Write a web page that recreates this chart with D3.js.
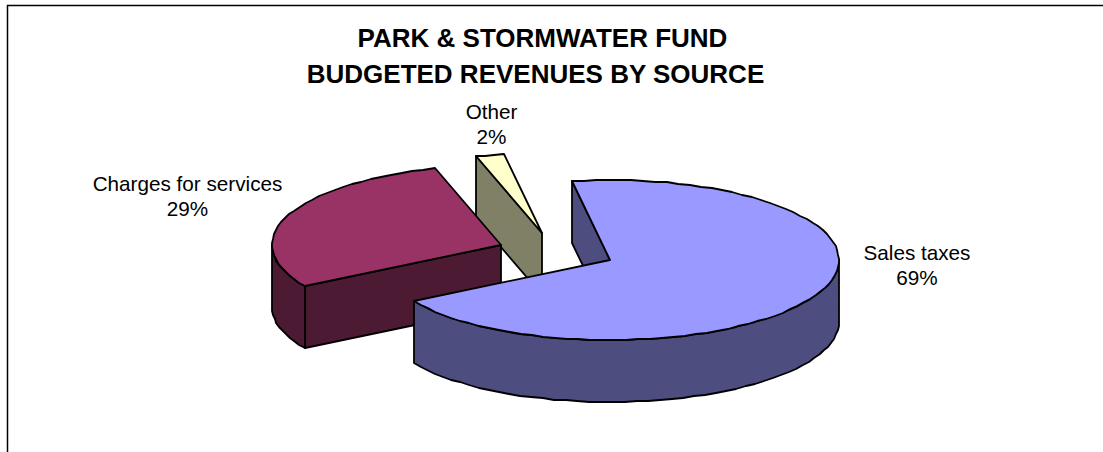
<!DOCTYPE html>
<html>
<head>
<meta charset="utf-8">
<script src="https://cdn.jsdelivr.net/npm/d3@7"></script>
<style>
  html, body { margin: 0; padding: 0; background: #fff; }
  svg { display: block; }
  text { font-family: "Liberation Sans", Arial, sans-serif; fill: #000; }
</style>
</head>
<body>
<svg id="chart" width="1103" height="452"></svg>
<script>
// Revenue sources and their shares, in percent
const sources = ["Sales taxes", "Charges for services", "Other"];
const shares = [69, 29, 2];
const titleLines = ["PARK & STORMWATER FUND", "BUDGETED REVENUES BY SOURCE"];
const topColors = ["#9999FF", "#993366", "#FFFFCC"];
const sideColors = ["#4D4D80", "#4D1A33", "#808066"];

// Pie geometry: a tilted circle seen as an ellipse, extruded downward
const rx = 229, ry = 80, depth = 62;
const firstAngle = -9.6 * Math.PI / 180;
const apexX = [610, 501, 542];
const apexY = [260, 245, 233];
const labelX = [917, 187.5, 491.5];
const labelY = [260, 191, 119];
const titleX = [542.5, 535.5];

const svg = d3.select("#chart");

// Chart frame: the top and left edges, running out of the window
svg.append("path")
  .attr("d", "M7.5,452V5.5H1103")
  .attr("fill", "none")
  .attr("stroke", "#000")
  .attr("stroke-width", 1.5);

const pie = d3.pie().sort(null)
  .startAngle(firstAngle)
  .endAngle(firstAngle + 2 * Math.PI);
const arcs = pie(shares);

// Angle is measured clockwise from 12 o'clock; whole pixels keep the stepped rim
const rim = (i, a, drop = 0) => [
  Math.round(apexX[i] + rx * Math.sin(a)),
  Math.round(apexY[i] - ry * Math.cos(a)) + drop
];

const rimPoints = (i, a0, a1, drop = 0) => {
  const n = Math.max(1, Math.ceil((a1 - a0) / (3 * Math.PI / 180)));
  return d3.range(n + 1).map(k => rim(i, a0 + (a1 - a0) * k / n, drop));
};

const line = d3.line();

const addFace = (g, pts, fill) => g.append("path")
  .attr("d", line(pts) + "Z")
  .attr("fill", fill)
  .attr("stroke", "#000")
  .attr("stroke-width", 1.8)
  .attr("stroke-linejoin", "round");

// Back slices first so the nearer ones overlap them
[2, 1, 0].forEach(i => {
  const { startAngle: a0, endAngle: a1 } = arcs[i];
  const g = svg.append("g").attr("class", "slice");
  const apex = [apexX[i], apexY[i]];
  const apexLow = [apexX[i], apexY[i] + depth];

  // Cut face along the slice's leading edge
  addFace(g, [rim(i, a0), apex, apexLow, rim(i, a0, depth)], sideColors[i]);

  // Curved outer wall: only the part on the near half of the ellipse
  const lo = Math.max(a0, Math.PI / 2);
  const hi = Math.min(a1, 3 * Math.PI / 2);
  if (hi > lo) {
    const upper = rimPoints(i, lo, hi);
    const lower = rimPoints(i, lo, hi, depth).reverse();
    addFace(g, upper.concat(lower), sideColors[i]);
  }

  // Top surface
  addFace(g, [apex].concat(rimPoints(i, a0, a1)), topColors[i]);
});

// Title
const title = svg.append("text")
  .attr("text-anchor", "middle")
  .attr("font-size", 26)
  .attr("font-weight", "bold");
titleLines.forEach((t, i) => {
  title.append("tspan").attr("x", titleX[i]).attr("y", 47 + i * 36).text(t);
});

// Slice labels: name over share
sources.forEach((s, i) => {
  const t = svg.append("text")
    .attr("text-anchor", "middle")
    .attr("font-size", 20.7);
  t.append("tspan").attr("x", labelX[i]).attr("y", labelY[i]).text(s);
  t.append("tspan").attr("x", labelX[i]).attr("y", labelY[i] + 24.5).text(shares[i] + "%");
});
</script>
</body>
</html>
